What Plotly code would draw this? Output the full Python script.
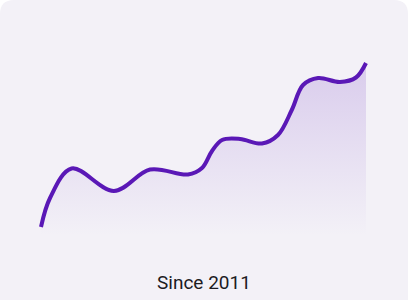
import plotly.graph_objects as go

# Data: index value over time
years = [2011.0, 2011.36, 2012.22, 2013.91, 2015.35, 2016.86, 2017.42, 2017.82,
         2018.22, 2018.94, 2019.81, 2020.45, 2021.0, 2021.45, 2022.05, 2022.92,
         2023.56, 2023.96]
values = [9, 38, 67.5, 45, 66.5, 61.5, 68, 85,
          96, 97, 92.5, 101, 126, 151, 158, 154,
          158.5, 173]
label = "Since 2011"

LINE = "#5a18b6"
CARD = "#f3f1f7"

fig = go.Figure()
fig.add_trace(go.Scatter(
    x=years, y=values, mode="lines",
    line=dict(color=LINE, width=4, shape="spline", smoothing=1.0),
    fill="tozeroy",
    fillgradient=dict(
        type="vertical",
        colorscale=[[0, "rgba(91,23,184,0.0)"], [1, "rgba(91,23,184,0.17)"]],
    ),
    hoverinfo="skip",
))

fig.update_layout(
    width=408, height=300,
    margin=dict(l=0, r=0, t=0, b=0),
    paper_bgcolor="white",
    plot_bgcolor="rgba(0,0,0,0)",
    showlegend=False,
    xaxis=dict(range=[2009.365, 2025.635], visible=False, fixedrange=True),
    yaxis=dict(range=[-64, 236], visible=False, fixedrange=True),
    shapes=[dict(
        type="path", xref="paper", yref="paper", layer="below",
        path="M 0,-0.1 L 0,0.953 Q 0,1 0.0343,1 L 0.9657,1 Q 1,1 1,0.953 L 1,-0.1 Z",
        fillcolor=CARD, line=dict(width=0),
    )],
    annotations=[dict(
        text=label, xref="paper", yref="paper", x=0.5, y=0.057,
        xanchor="center", yanchor="middle", showarrow=False,
        font=dict(family="Roboto, Inter, sans-serif", size=19, color="#1c1b1f"),
    )],
)

fig.write_html("out.html", config={"displayModeBar": False})
